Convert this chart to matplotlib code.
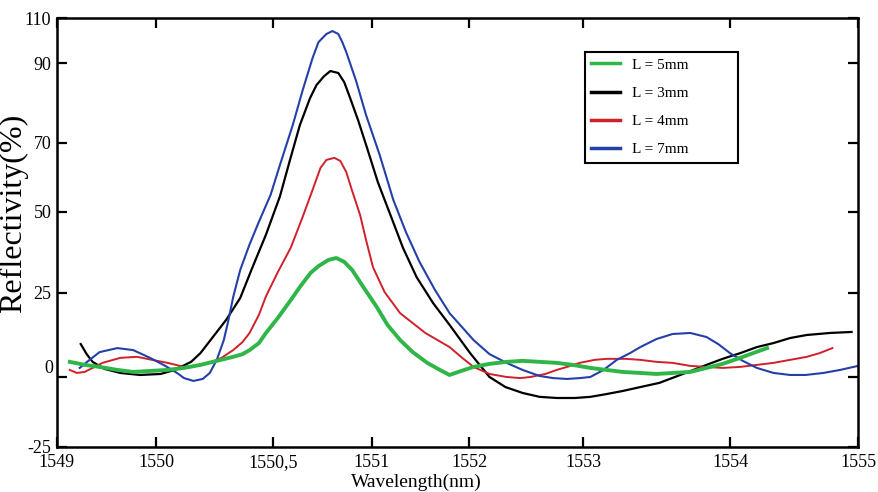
import matplotlib
matplotlib.use('agg')
import matplotlib.pyplot as plt
import numpy as np

# data (wavelength in nm, reflectivity in %)
wl_3mm = [1549.24, 1549.30, 1549.36, 1549.48, 1549.64, 1549.84, 1550.02, 1550.08,
          1550.15, 1550.19, 1550.24, 1550.30, 1550.36, 1550.41, 1550.47, 1550.535,
          1550.586, 1550.636, 1550.687, 1550.72, 1550.758, 1550.79, 1550.83, 1550.86,
          1550.89, 1550.93, 1550.975, 1551.06, 1551.19, 1551.32, 1551.46, 1551.63,
          1551.80, 1552.01, 1552.18, 1552.32, 1552.47, 1552.62, 1552.77, 1552.93,
          1553.05, 1553.16, 1553.27, 1553.39, 1553.52, 1553.68, 1553.84, 1553.95,
          1554.08, 1554.21, 1554.34, 1554.47, 1554.60, 1554.78, 1554.95]
r_3mm = [9.8, 6.8, 4.5, 2.4, 1.2, 0.6, 0.9, 2.1,
         4.5, 7.1, 11.6, 17.0, 23.5, 32.5, 43.0, 54.5,
         65.1, 74.5, 81.2, 84.5, 86.7, 88.0, 87.5, 85.2,
         81.2, 75.7, 68.6, 58.7, 49.1, 38.9, 29.9, 22.0,
         15.5, 7.1, 0.0, -3.6, -5.7, -7.1, -7.5, -7.5,
         -7.1, -6.1, -5.0, -3.6, -2.1, 0.9, 3.6, 5.4,
         7.1, 8.9, 10.1, 11.6, 12.5, 13.1, 13.4]

wl_7mm = [1549.23, 1549.33, 1549.43, 1549.61, 1549.77, 1549.94, 1550.04, 1550.09,
          1550.12, 1550.16, 1550.20, 1550.23, 1550.26, 1550.29, 1550.31, 1550.33,
          1550.36, 1550.40, 1550.44, 1550.49, 1550.535, 1550.60, 1550.65, 1550.70,
          1550.73, 1550.77, 1550.80, 1550.83, 1550.85, 1550.87, 1550.92, 1550.97,
          1551.08, 1551.22, 1551.35, 1551.49, 1551.65, 1551.80, 1552.04, 1552.18,
          1552.33, 1552.47, 1552.62, 1552.74, 1552.86, 1552.97, 1553.05, 1553.14,
          1553.23, 1553.32, 1553.39, 1553.50, 1553.61, 1553.73, 1553.84, 1553.92,
          1554.0, 1554.10, 1554.21, 1554.34, 1554.47, 1554.59, 1554.73, 1554.86, 1555.0]
r_7mm = [2.7, 5.1, 7.4, 8.6, 8.0, 5.7, 3.3, 1.2,
         -0.4, -1.4, -0.7, 1.2, 5.1, 11.0, 17.0, 23.8,
         32.1, 40.0, 47.0, 55.0, 63.6, 74.5, 83.2, 92.2,
         99.3, 102.9, 104.2, 102.9, 99.3, 94.9, 85.5, 77.0,
         66.5, 53.5, 43.8, 34.6, 25.9, 19.0, 11.0, 6.8,
         4.2, 2.1, 0.3, -0.4, -0.7, -0.4, 0.0, 2.1,
         5.1, 7.1, 8.9, 11.3, 12.8, 13.1, 11.9, 9.8,
         7.1, 4.8, 2.7, 1.2, 0.6, 0.6, 1.2, 2.1, 3.3]

wl_4mm = [1549.13, 1549.20, 1549.28, 1549.38, 1549.46, 1549.64, 1549.81, 1549.96,
          1550.05, 1550.12, 1550.18, 1550.23, 1550.28, 1550.33, 1550.37, 1550.40,
          1550.44, 1550.47, 1550.525, 1550.59, 1550.65, 1550.70, 1550.74, 1550.77,
          1550.81, 1550.84, 1550.87, 1550.90, 1550.94, 1550.97, 1551.01, 1551.13,
          1551.29, 1551.55, 1551.80, 1551.93, 1552.04, 1552.18, 1552.33, 1552.45,
          1552.54, 1552.67, 1552.77, 1552.89, 1552.97, 1553.08, 1553.16, 1553.29,
          1553.39, 1553.50, 1553.61, 1553.73, 1553.84, 1553.95, 1554.08, 1554.21,
          1554.34, 1554.47, 1554.60, 1554.70, 1554.80]
r_4mm = [2.1, 1.2, 1.5, 3.0, 4.2, 5.7, 6.0, 5.1,
         4.2, 3.0, 3.3, 4.2, 5.7, 8.0, 10.4, 13.1,
         18.5, 24.0, 31.5, 39.0, 48.5, 56.4, 62.8, 65.1,
         65.7, 64.8, 61.6, 56.1, 49.1, 41.4, 33.0, 25.3,
         19.0, 13.1, 8.9, 5.7, 3.0, 0.9, 0.0, -0.4,
         0.0, 0.9, 2.1, 3.3, 4.2, 5.1, 5.4, 5.4,
         5.1, 4.5, 4.2, 3.3, 3.0, 2.7, 3.0, 3.6,
         4.2, 5.1, 6.0, 7.1, 8.6]

wl_5mm = [1549.13, 1549.28, 1549.43, 1549.61, 1549.77, 1549.94, 1550.05, 1550.12,
          1550.19, 1550.26, 1550.33, 1550.37, 1550.40, 1550.44, 1550.47, 1550.525,
          1550.59, 1550.64, 1550.69, 1550.73, 1550.78, 1550.82, 1550.86, 1550.90,
          1550.96, 1551.05, 1551.16, 1551.29, 1551.42, 1551.57, 1551.70, 1551.80,
          1551.92, 1552.04, 1552.18, 1552.33, 1552.47, 1552.62, 1552.77, 1552.91,
          1553.05, 1553.16, 1553.27, 1553.39, 1553.50, 1553.61, 1553.73, 1553.84,
          1553.95, 1554.08, 1554.18, 1554.29]
r_5mm = [4.5, 3.6, 3.0, 2.1, 1.5, 1.8, 2.1, 2.7,
         3.6, 4.8, 6.0, 6.8, 8.0, 10.1, 13.1, 17.6,
         22.9, 27.2, 31.2, 33.3, 35.2, 35.8, 34.6, 32.1,
         26.5, 20.8, 15.5, 11.0, 7.4, 4.2, 2.1, 0.6,
         1.8, 3.0, 3.9, 4.5, 4.8, 4.5, 4.2, 3.6,
         2.7, 2.1, 1.5, 1.2, 0.9, 1.2, 1.5, 2.7,
         3.9, 5.7, 7.1, 8.6]

x_ticks = [1549, 1550, 1550.5, 1551, 1552, 1553, 1554, 1555]
x_tick_labels = ['1549', '1550', '1550,5', '1551', '1552', '1553', '1554', '1555']
y_ticks = [-25, 0, 25, 50, 70, 90, 110]
y_tick_labels = ['-25', '', '25', '50', '70', '90', '110']

# the original axes are not evenly spaced: where each tick sits (pixels)
x_tick_px = [0, 99, 216, 315, 412, 526, 673, 801]
y_tick_px = [0, 70, 154, 235, 304, 384, 429]

plt.rcParams['font.family'] = ['Liberation Serif', 'DejaVu Serif']

fig = plt.figure(figsize=(8.79, 4.92), dpi=100)
ax = fig.add_axes([0.0648, 0.0915, 0.9113, 0.8719])

ax.set_xscale('function', functions=(lambda v: np.interp(v, x_ticks, x_tick_px),
                                     lambda p: np.interp(p, x_tick_px, x_ticks)))
ax.set_yscale('function', functions=(lambda v: np.interp(v, y_ticks, y_tick_px),
                                     lambda p: np.interp(p, y_tick_px, y_ticks)))

ax.plot(wl_3mm, r_3mm, color='black', lw=1.6, label='L = 3mm')
ax.plot(wl_4mm, r_4mm, color='#d0202a', lw=1.4, label='L = 4mm')
ax.plot(wl_7mm, r_7mm, color='#2440a8', lw=1.5, label='L = 7mm')
ax.plot(wl_5mm, r_5mm, color='#2fb548', lw=2.8, label='L = 5mm')

ax.set_xlim(1549, 1555)
ax.set_ylim(-25, 110)
ax.set_xticks(x_ticks)
ax.set_xticklabels(x_tick_labels)
ax.set_yticks(y_ticks)
ax.set_yticklabels(y_tick_labels)
ax.minorticks_off()

# the "0" label sits a little above its tick in the original
ax.annotate('0', xy=(0, 0), xycoords=('axes fraction', 'data'), xytext=(-4, 8),
            textcoords='offset pixels', ha='right', va='center', fontsize=13)

ax.tick_params(direction='in', length=7, width=1.6, top=True, right=True,
               labelsize=13)
ax.tick_params(axis='x', pad=5)
ax.tick_params(axis='y', pad=4)
for s in ax.spines.values():
    s.set_linewidth(1.8)

ax.set_xlabel('Wavelength(nm)', fontsize=14)
ax.xaxis.set_label_coords(0.449, -0.062)
ax.set_ylabel('Reflectivity(%)', fontsize=23)
ax.yaxis.set_label_coords(-0.036, 0.545)

h, l = ax.get_legend_handles_labels()
order = [3, 0, 1, 2]
leg = ax.legend([h[i] for i in order], [l[i] for i in order],
                loc='upper left',
                bbox_to_anchor=(585 / 879, 1 - 158 / 492, 153 / 879, 106 / 492),
                bbox_transform=fig.transFigure, borderaxespad=0, mode='expand',
                fontsize=11, handlelength=1.9, labelspacing=0.95,
                fancybox=False, framealpha=1, edgecolor='black')
leg.get_frame().set_linewidth(1.5)
for line in leg.get_lines():
    line.set_linewidth(2.5)

fig.savefig('out.png', dpi=100)
